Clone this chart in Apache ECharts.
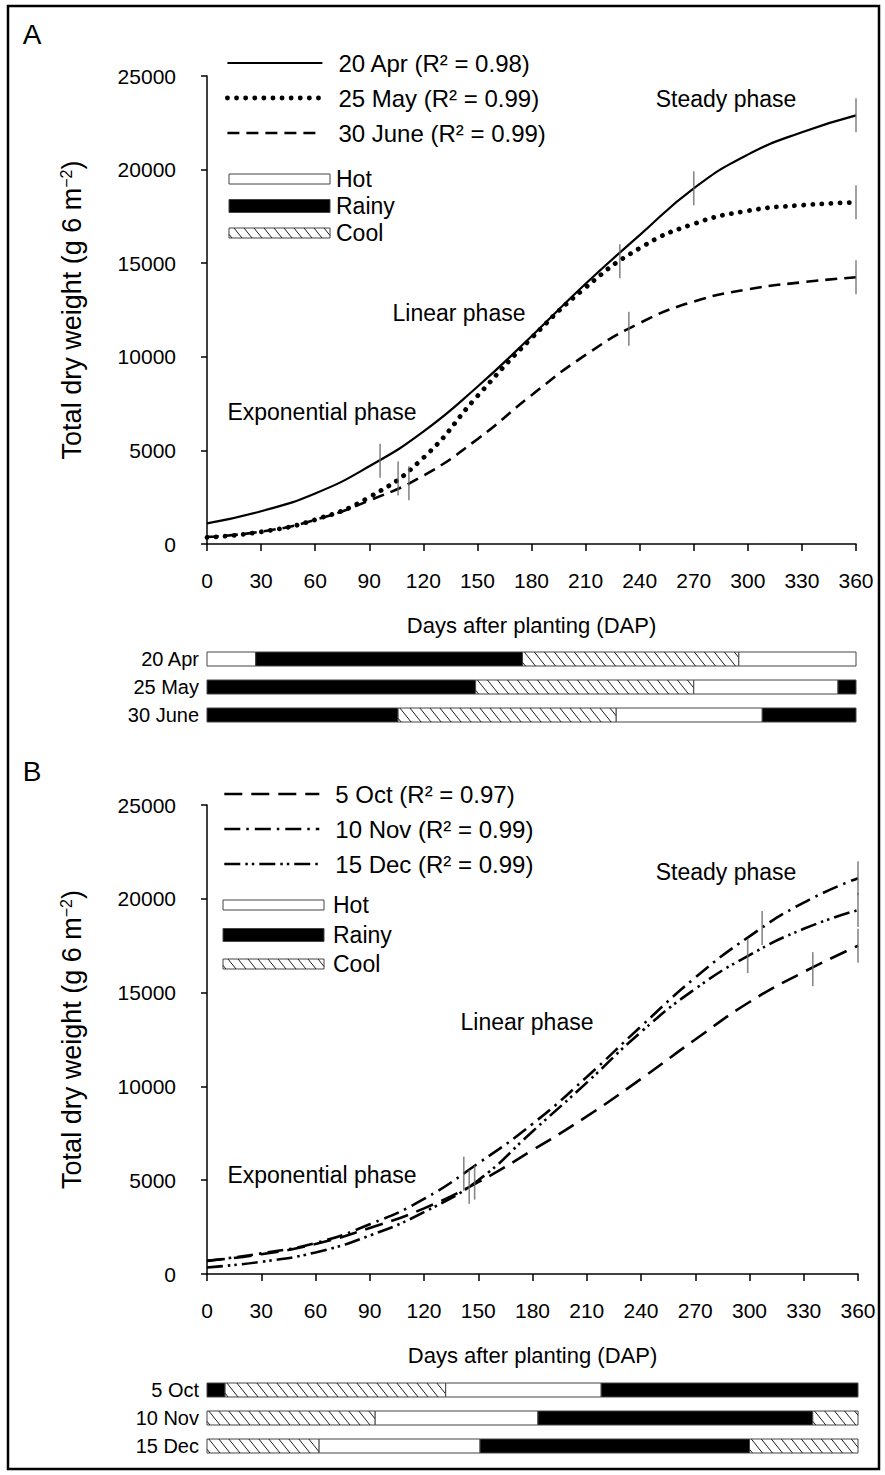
<!DOCTYPE html>
<html>
<head>
<meta charset="utf-8">
<script src="https://cdn.jsdelivr.net/npm/echarts@6/dist/echarts.min.js"></script>
<style>html,body{margin:0;padding:0;background:#fff}#c{width:885px;height:1475px}</style>
</head>
<body>
<div id="c"></div>
<script>
// ---------------- data ----------------
const days = [0, 30, 60, 90, 120, 150, 180, 210, 240, 270, 300, 330, 360];

const weight20Apr = [1100, 1750, 2700, 4150, 6000, 8400, 11100, 13900, 16500, 19000, 20800, 22000, 22900];
const weight25May = [350, 650, 1300, 2500, 4600, 7900, 11000, 13700, 15800, 17100, 17800, 18100, 18250];
const weight30Jun = [380, 660, 1290, 2320, 3650, 5600, 7950, 10100, 11800, 12950, 13600, 13980, 14250];

const weight5Oct  = [700, 1050, 1600, 2450, 3500, 4900, 6600, 8400, 10400, 12500, 14500, 16100, 17500];
const weight10Nov = [700, 1100, 1650, 2650, 4000, 5900, 8000, 10500, 13200, 15800, 18000, 19800, 21100];
const weight15Dec = [350, 650, 1150, 2050, 3300, 5000, 7600, 10200, 12900, 15200, 17000, 18400, 19400];

// phase boundaries [DAP, weight]
const phase20Apr = [[96, 4450], [270, 19000], [360, 22900]];
const phase25May = [[106, 3500], [229, 15100], [360, 18250]];
const phase30Jun = [[112, 3250], [234, 11500], [360, 14250]];
const phase5Oct  = [[145, 4650], [335, 16250], [360, 17500]];
const phase10Nov = [[142, 5350], [307, 18450], [360, 21100]];
const phase15Dec = [[148, 4870], [299, 16950], [360, 19400]];

const climateNames = ['Hot', 'Rainy', 'Cool'];
const plantingA = ['20 Apr', '25 May', '30 June'];
const plantingB = ['5 Oct', '10 Nov', '15 Dec'];
const seasons20Apr = [[0, 27, 'Hot'], [27, 175, 'Rainy'], [175, 295, 'Cool'], [295, 360, 'Hot']];
const seasons25May = [[0, 149, 'Rainy'], [149, 270, 'Cool'], [270, 350, 'Hot'], [350, 360, 'Rainy']];
const seasons30Jun = [[0, 106, 'Rainy'], [106, 227, 'Cool'], [227, 308, 'Hot'], [308, 360, 'Rainy']];
const seasons5Oct  = [[0, 10, 'Rainy'], [10, 132, 'Cool'], [132, 218, 'Hot'], [218, 360, 'Rainy']];
const seasons10Nov = [[0, 93, 'Cool'], [93, 183, 'Hot'], [183, 335, 'Rainy'], [335, 360, 'Cool']];
const seasons15Dec = [[0, 62, 'Cool'], [62, 151, 'Hot'], [151, 300, 'Rainy'], [300, 360, 'Cool']];

const legendA = ['20 Apr (R\u00b2 = 0.98)', '25 May (R\u00b2 = 0.99)', '30 June (R\u00b2 = 0.99)'];
const legendB = ['5 Oct (R\u00b2 = 0.97)', '10 Nov (R\u00b2 = 0.99)', '15 Dec (R\u00b2 = 0.99)'];

// ---------------- styles ----------------
const FONT = "'Liberation Sans', Arial, Helvetica, sans-serif";
const ST = {
  solid:   {color: '#000', width: 2.2, type: 'solid'},
  dotted:  {color: '#000', width: 4.8, type: [0.1, 9], cap: 'round'},
  dashed:  {color: '#000', width: 2.6, type: [12, 7]},
  longdash:{color: '#000', width: 2.6, type: [18, 9]},
  dashdot: {color: '#000', width: 2.6, type: [16, 6, 2.5, 6]},
  dashdotdot: {color: '#000', width: 2.6, type: [16, 5, 2.5, 4, 2.5, 5]}
};

function hatch(x, y, w, h) {
  const step = 10, d = h * 0.8, out = [];
  for (let xa = x - d + 3; xa < x + w; xa += step) {
    let xs = xa, ys = y, xe = xa + d, ye = y + h;
    if (xs < x) { ys = y + (x - xa) / d * h; xs = x; }
    if (xe > x + w) { ye = y + (x + w - xa) / d * h; xe = x + w; }
    if (xe - xs < 0.3) continue;
    out.push({type: 'line', shape: {x1: xs, y1: ys, x2: xe, y2: ye}, style: {stroke: '#222', lineWidth: 1}});
  }
  return out;
}

function climateBox(t, x, y, w, h) {
  const kids = [{type: 'rect', shape: {x: x, y: y, width: w, height: h},
    style: {fill: t === 1 ? '#000' : '#fff', stroke: '#444', lineWidth: 1}}];
  if (t === 2) kids.push.apply(kids, hatch(x, y, w, h));
  return kids;
}

function renderSeason(params, api) {
  const row = api.value(0), s = api.value(1), e = api.value(2), t = api.value(3);
  const a = api.coord([s, row]), b = api.coord([e, row]);
  const h = 14;
  return {type: 'group', children: climateBox(t, a[0], a[1] - h / 2, b[0] - a[0], h)};
}

function curve(name, vals, style, ai) {
  return {type: 'line', name: name, xAxisIndex: ai, yAxisIndex: ai,
    data: days.map((d, i) => [d, vals[i]]), symbol: 'none', smooth: 0.5,
    lineStyle: style, itemStyle: {color: '#000'}, z: 3, silent: true, animation: false};
}
function marks(pts, ai) {
  return {type: 'scatter', xAxisIndex: ai, yAxisIndex: ai, data: pts, symbol: 'rect',
    symbolSize: [1.6, 34], itemStyle: {color: '#6a6a6a'}, z: 4, silent: true, animation: false};
}
function seasonSeries(rows, ai) {
  const data = [];
  rows.forEach((segs, r) => segs.forEach(sg => data.push([r, sg[0], sg[1], climateNames.indexOf(sg[2])])));
  return {type: 'custom', xAxisIndex: ai, yAxisIndex: ai, data: data, renderItem: renderSeason,
    encode: {x: [1, 2], y: 0}, silent: true, animation: false};
}

const tickText = {fontSize: 21, color: '#000', fontFamily: FONT};
function valueX(gi) {
  return {type: 'value', gridIndex: gi, min: 0, max: 360, interval: 30,
    axisLine: {show: true, lineStyle: {color: '#000', width: 1.5}},
    axisTick: {show: true, inside: false, length: 7, lineStyle: {color: '#000', width: 1.5}},
    axisLabel: Object.assign({margin: 26}, tickText),
    splitLine: {show: false},
    name: 'Days after planting (DAP)', nameLocation: 'middle', nameGap: 70,
    nameTextStyle: {fontSize: 22, color: '#000', fontFamily: FONT}};
}
function valueY(gi) {
  return {type: 'value', gridIndex: gi, min: 0, max: 25000, interval: 5000,
    axisLine: {show: true, lineStyle: {color: '#000', width: 1.5}},
    axisTick: {show: true, inside: false, length: 6, lineStyle: {color: '#000', width: 1.5}},
    axisLabel: Object.assign({margin: 31, formatter: v => String(v)}, tickText),
    splitLine: {show: false},
    name: 'Total dry weight (g 6 m{sup|\u22122})', nameLocation: 'middle', nameGap: 122, nameRotate: 90,
    nameTextStyle: {fontSize: 27, color: '#000', fontFamily: FONT,
      rich: {sup: {fontSize: 16, verticalAlign: 'top', fontFamily: FONT, color: '#000', padding: [0, 0, 11, 0]}}}};
}
function barX(gi) {
  return {type: 'value', gridIndex: gi, min: 0, max: 360, show: false};
}
function barY(gi, cats) {
  return {type: 'category', gridIndex: gi, data: cats, inverse: true,
    axisLine: {show: false}, axisTick: {show: false}, splitLine: {show: false},
    axisLabel: {fontSize: 20, color: '#000', fontFamily: FONT, margin: 8}};
}

function textG(txt, x, y, size, align) {
  return {type: 'text', x: x, y: y, style: {text: txt, fontSize: size, fontFamily: FONT, fill: '#000',
    align: align || 'center', verticalAlign: 'middle'}, silent: true};
}
function climateLegend(x, textX, yHot, yRainy, yCool) {
  const items = [];
  items.push({type: 'group', children: climateBox(0, x, yHot - 5, 101, 10)});
  items.push({type: 'group', children: climateBox(1, x, yRainy - 6.5, 101, 13)});
  items.push({type: 'group', children: climateBox(2, x, yCool - 5, 101, 10)});
  items.push(textG(climateNames[0], textX, yHot, 23, 'left'));
  items.push(textG(climateNames[1], textX, yRainy, 23, 'left'));
  items.push(textG(climateNames[2], textX, yCool, 23, 'left'));
  return items;
}

const legendCommon = {orient: 'vertical', itemWidth: 95, itemHeight: 14, itemGap: 11,
  selectedMode: false, itemStyle: {opacity: 0},
  textStyle: {fontSize: 24, color: '#000', fontFamily: FONT, padding: [0, 0, 0, 11]}};
function legendItems(names, styles) {
  return names.map((n, i) => ({name: n, lineStyle: Object.assign({}, styles[i])}));
}

const option = {
  animation: false,
  backgroundColor: '#fff',
  grid: [
    {left: 207, top: 76, width: 649, height: 468},
    {left: 207, top: 645, width: 649, height: 84},
    {left: 207, top: 805, width: 651, height: 469},
    {left: 207, top: 1376, width: 651, height: 84}
  ],
  xAxis: [valueX(0), barX(1), valueX(2), barX(3)],
  yAxis: [valueY(0), barY(1, plantingA), valueY(2), barY(3, plantingB)],
  legend: [
    Object.assign({}, legendCommon, {data: legendItems(legendA, [ST.solid, ST.dotted, ST.dashed]), left: 220, top: 46}),
    Object.assign({}, legendCommon, {data: legendItems(legendB, [ST.longdash, ST.dashdot, ST.dashdotdot]), left: 218, top: 777})
  ],
  series: [
    curve(legendA[0], weight20Apr, ST.solid, 0),
    curve(legendA[1], weight25May, ST.dotted, 0),
    curve(legendA[2], weight30Jun, ST.dashed, 0),
    marks(phase20Apr.concat(phase25May, phase30Jun), 0),
    seasonSeries([seasons20Apr, seasons25May, seasons30Jun], 1),
    curve(legendB[0], weight5Oct, ST.longdash, 2),
    curve(legendB[1], weight10Nov, ST.dashdot, 2),
    curve(legendB[2], weight15Dec, ST.dashdotdot, 2),
    marks(phase5Oct.concat(phase10Nov, phase15Dec), 2),
    seasonSeries([seasons5Oct, seasons10Nov, seasons15Dec], 3)
  ],
  graphic: [
    {type: 'rect', shape: {x: 8, y: 6, width: 871, height: 1463}, style: {fill: 'none', stroke: '#000', lineWidth: 2.5}, silent: true},
    textG('A', 32, 34, 28),
    textG('B', 32, 771, 28),
    textG('Steady phase', 726, 99, 23),
    textG('Linear phase', 459, 313, 23),
    textG('Exponential phase', 322, 412, 23),
    textG('Steady phase', 726, 872, 23),
    textG('Linear phase', 527, 1022, 23),
    textG('Exponential phase', 322, 1175, 23)
  ].concat(climateLegend(229, 336, 179, 206, 233), climateLegend(223, 333, 905, 935, 964))
};

const chart = echarts.init(document.getElementById('c'), null, {renderer: 'svg', width: 885, height: 1475});
chart.setOption(option);
</script>
</body>
</html>
